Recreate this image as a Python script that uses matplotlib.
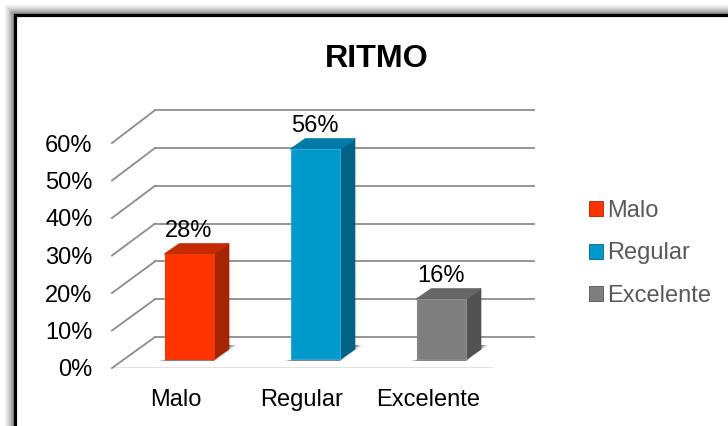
import matplotlib
matplotlib.use('Agg')
import matplotlib.pyplot as plt
from matplotlib.patches import Polygon, Rectangle, Patch
from matplotlib.transforms import offset_copy

plt.rcParams['font.family'] = ['Liberation Sans', 'DejaVu Sans']

# Data
categories = ['Malo', 'Regular', 'Excelente']
values = [28, 56, 16]
tick_values = [0, 10, 20, 30, 40, 50, 60]
tick_labels = ['0%', '10%', '20%', '30%', '40%', '50%', '60%']

front_colors = ['#FF3300', '#0099CC', '#7F7F7F']
side_colors = ['#A62400', '#006385', '#525252']
top_colors = ['#C42B00', '#007BA5', '#666666']
edge_colors = ['#E83A10', '#2AA9D6', '#8A8A8A']

W, H = 728, 426
fig = plt.figure(figsize=(W / 100, H / 100), dpi=100, facecolor='white')

# Background layer in pixels: soft shadow and black frame
bg = fig.add_axes([0, 0, 1, 1])
bg.set_xlim(0, W)
bg.set_ylim(H, 0)
bg.axis('off')
for d in range(11, 0, -1):
    g = 255 - 115 * ((11 - d) / 10) ** 1.4
    bg.add_patch(Rectangle((14 - d, 14 - d), 900, 900, fc=(g / 255, g / 255, g / 255), ec='none'))
bg.add_patch(Rectangle((14.5, 14.5), 900, 900, fc='white', ec='black', lw=2.3))

# Chart axes: y=0 sits on the base of the bars
px_per_pct = 3.75
px_per_cat = 126
left, right, bottom, top = 112, 534, 368, 100
ax = fig.add_axes([left / W, 1 - bottom / H, (right - left) / W, (bottom - top) / H])
ax.patch.set_alpha(0)
ax.set_xlim((left - 189.5) / px_per_cat, (right - 189.5) / px_per_cat)
ax.set_ylim((359 - bottom) / px_per_pct, (359 - top) / px_per_pct)
for s in ax.spines.values():
    s.set_visible(False)

front_off = (359 - 368) / px_per_pct
back_off = (359 - 337) / px_per_pct
back_scale = 3.78 / 3.75
x_left = ax.get_xlim()[0]
x_back = x_left + 43 / px_per_cat
x_right = ax.get_xlim()[1]
grid_col = '#8C8C8C'

# Floor line, walls and gridlines
ax.plot([x_left, x_left + 379 / px_per_cat], [front_off, front_off], color='#D9D9D9', lw=1.8, zorder=1)
for v in tick_values:
    y_front = v + front_off
    y_back = v * back_scale + back_off
    ax.plot([x_left, x_back], [y_front, y_back], color=grid_col, lw=1.3, zorder=1, clip_on=False)
    ax.plot([x_back, x_right], [y_back, y_back], color=grid_col, lw=1.3, zorder=1, clip_on=False)

# Bars with fake depth
width = 49 / px_per_cat
dx = 14.5 / px_per_cat
dy = 10 / px_per_pct
xs = list(range(len(categories)))
ax.bar(xs, values, width=width, color=front_colors, edgecolor=edge_colors, linewidth=0.8, zorder=4)
for x, v, sc, tc in zip(xs, values, side_colors, top_colors):
    x0, x1 = x - width / 2, x + width / 2
    # floor shadow, a few layers to blur it
    for grow, a in [(1.0, 0.18), (0.7, 0.28), (0.4, 0.38)]:
        ax.add_patch(Polygon([(x0 - 7 * grow / px_per_cat, -2 / px_per_pct), (x1, -2 / px_per_pct),
                              (x1 + dx + 8 * grow / px_per_cat, 14 / px_per_pct),
                              (x1 + dx - 4 / px_per_cat, 14 / px_per_pct)],
                             fc='#404040', ec='none', alpha=a, zorder=2))
    ax.add_patch(Polygon([(x1, 0), (x1 + dx, dy), (x1 + dx, v + dy), (x1, v)],
                         fc=sc, ec=sc, lw=1.2, joinstyle='round', zorder=3))
    ax.add_patch(Polygon([(x0, v), (x0 + dx, v + dy), (x1 + dx, v + dy), (x1, v)],
                         fc=tc, ec=tc, lw=1.2, joinstyle='round', zorder=3))
    ax.annotate(f'{v}%', xy=(x, v), xytext=(-0.5, 16.4), textcoords='offset points',
                ha='center', va='center', fontsize=17, color='black', zorder=6)

# Ticks
ax.set_yticks([v + front_off for v in tick_values])
ax.set_yticklabels(tick_labels, fontsize=17, color='black')
ax.set_xticks(xs)
ax.set_xticklabels(categories, fontsize=17, color='black')
ax.tick_params(axis='both', length=0)
ax.tick_params(axis='y', pad=14)
ax.tick_params(axis='x', pad=15)
# category labels sit on the front edge of the floor, left of the bars
for lab in ax.get_xticklabels():
    lab.set_transform(offset_copy(lab.get_transform(), fig=fig, x=-13.5, y=0, units='dots'))

fig.text(377 / W, 1 - 59 / H, 'RITMO', ha='center', va='center', fontsize=23.2, fontweight='bold', color='black')

handles = [Patch(fc=c, ec=s, lw=0.6) for c, s in zip(front_colors, side_colors)]
leg = fig.legend(handles, categories, loc='center left', bbox_to_anchor=(589 / W, 1 - 253.5 / H),
                 frameon=False, fontsize=17, labelcolor='#595959', handlelength=0.58, handleheight=0.58,
                 handletextpad=0.2, labelspacing=0.87, borderpad=0, borderaxespad=0)

fig.savefig('out.png', dpi=100)
